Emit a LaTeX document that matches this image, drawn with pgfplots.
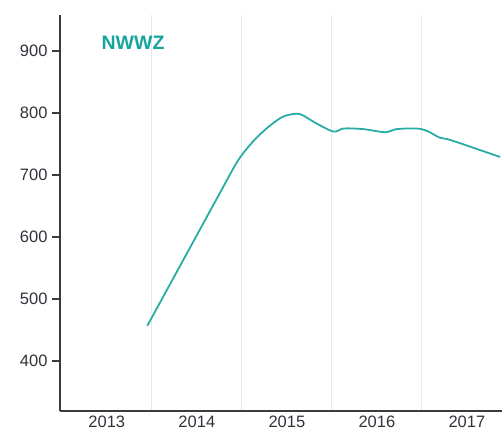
\documentclass[border=0pt]{standalone}
\usepackage{pgfplots}
\pgfplotsset{compat=1.18}
\usepackage{fontspec}
\setmainfont{Liberation Sans}
\definecolor{lineteal}{RGB}{42,172,166}
\definecolor{titleteal}{RGB}{22,164,158}
\definecolor{spine}{RGB}{60,60,60}
\definecolor{ticktext}{RGB}{50,50,58}
\begin{document}
\begin{tikzpicture}
\begin{axis}[
  scale only axis, width=442bp, height=395.7bp,
  xmin=2012.98, xmax=2017.89, ymin=320, ymax=958,
  axis x line*=bottom, axis y line*=left,
  axis line style={spine, line width=1.6bp},
  xtick={2013.5,2014.5,2015.5,2016.5,2017.5},
  xticklabels={2013,2014,2015,2016,2017},
  minor xtick={2014,2015,2016,2017},
  xminorgrids, minor x grid style={color=black!9, line width=1bp},
  ytick={400,500,600,700,800,900},
  tick align=outside, major tick length=8bp, minor tick length=0pt,
  x tick style={draw=none},
  y tick style={spine, line width=1.2bp},
  ticklabel style={font=\fontsize{16.5bp}{18bp}\selectfont, text=ticktext},
  xticklabel style={yshift=6bp},
  yticklabel style={xshift=-1bp},
  /pgf/number format/assume math mode=true,
  clip=false,
]
\addplot[color=lineteal, line width=1.8bp, smooth, tension=0.5] coordinates {
(2013.95,457) (2014.21,526) (2014.47,595) (2014.76,672)
(2014.96,724) (2015.13,755) (2015.29,777) (2015.43,792) (2015.52,797)
(2015.65,798) (2015.83,783) (2016.02,770) (2016.13,775) (2016.35,774)
(2016.59,769) (2016.72,774) (2016.94,775) (2017.06,771) (2017.20,760)
(2017.28,758) (2017.43,751) (2017.61,742) (2017.87,729)
};
\node[anchor=west, inner sep=0pt, text=titleteal, font=\fontsize{19.5bp}{22bp}\selectfont\bfseries] at (axis cs:2013.44,913) {NWWZ};
\end{axis}
\pgfresetboundingbox
\path ([xshift=-60bp,yshift=-22.3bp]current axis.south west) rectangle ([xshift=2bp,yshift=15bp]current axis.north east);
\end{tikzpicture}
\end{document}
